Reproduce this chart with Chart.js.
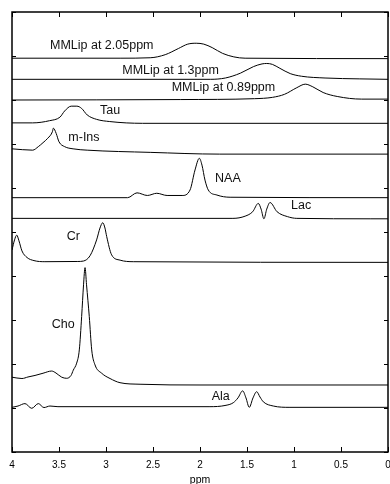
<!DOCTYPE html>
<html lang="en">
<head>
    <meta charset="UTF-8">
    <title>Metabolite basis spectra</title>
    <script src="https://cdn.jsdelivr.net/npm/chart.js"></script>
    <style>
        body { margin: 0; background: #fff; }
        .wrap { width: 390px; height: 484px; position: relative; }
    </style>
</head>
<body>
    <div class="wrap"><canvas id="spectra"></canvas></div>

    <script>
        // basis spectra, [ppm, amplitude] pairs, each trace on its own offset
        const mmLip205 = [[4.0, 8.95], [2.85, 8.95], [2.53, 8.96], [2.37, 9.03], [2.23, 9.17], [2.13, 9.27], [2.04, 9.29], [1.96, 9.27], [1.87, 9.19], [1.76, 9.06], [1.64, 8.98], [1.52, 8.95], [0, 8.94]];
        const mmLip13 = [[4.0, 8.47], [1.89, 8.47], [1.73, 8.50], [1.57, 8.61], [1.43, 8.76], [1.34, 8.82], [1.29, 8.83], [1.23, 8.81], [1.15, 8.72], [1.04, 8.60], [0.92, 8.54], [0.67, 8.50], [0.30, 8.48], [0, 8.47]];
        const mmLip089 = [[4.0, 8.0], [2.21, 8.01], [1.42, 8.03], [1.23, 8.06], [1.10, 8.13], [0.97, 8.28], [0.88, 8.36], [0.80, 8.30], [0.69, 8.17], [0.54, 8.08], [0.28, 8.02], [0, 8.02]];
        const tau = [[4.0, 7.48], [3.78, 7.48], [3.60, 7.53], [3.49, 7.61], [3.44, 7.75], [3.37, 7.86], [3.31, 7.86], [3.26, 7.81], [3.20, 7.66], [3.10, 7.56], [2.96, 7.51], [2.61, 7.47], [0, 7.47]];
        const mIns = [[4.0, 6.89], [3.78, 6.86], [3.72, 6.94], [3.67, 7.03], [3.62, 7.13], [3.57, 7.28], [3.56, 7.36], [3.53, 7.24], [3.50, 7.05], [3.44, 6.94], [3.35, 6.89], [3.20, 6.86], [2.53, 6.81], [1.79, 6.77], [0, 6.77]];
        const naa = [[4.0, 5.78], [2.77, 5.78], [2.67, 5.89], [2.56, 5.83], [2.46, 5.88], [2.35, 5.83], [2.19, 5.83], [2.106, 5.955], [2.053, 6.41], [2.007, 6.675], [1.979, 6.52], [1.947, 6.18], [1.912, 5.955], [1.82, 5.84], [1.68, 5.79], [0, 5.78]];
        const lac = [[4.0, 5.31], [1.65, 5.31], [1.52, 5.36], [1.44, 5.46], [1.38, 5.65], [1.35, 5.52], [1.32, 5.30], [1.29, 5.52], [1.255, 5.67], [1.18, 5.46], [1.07, 5.35], [0.97, 5.31], [0.19, 5.30], [0, 5.30]];
        const cr = [[4.0, 4.59], [3.973, 4.82], [3.95, 4.93], [3.926, 4.80], [3.894, 4.57], [3.84, 4.42], [3.766, 4.35], [3.65, 4.325], [3.30, 4.33], [3.24, 4.34], [3.17, 4.46], [3.10, 4.82], [3.064, 5.09], [3.035, 5.21], [3.011, 5.09], [2.993, 4.90], [2.94, 4.48], [2.85, 4.36], [2.71, 4.325], [0, 4.31]];
        const cho = [[4.0, 1.70], [3.894, 1.67], [3.83, 1.705], [3.755, 1.74], [3.67, 1.79], [3.578, 1.84], [3.532, 1.795], [3.471, 1.70], [3.418, 1.675], [3.372, 1.74], [3.348, 1.86], [3.312, 2.02], [3.284, 2.32], [3.259, 3.08], [3.239, 3.80], [3.223, 4.19], [3.207, 3.80], [3.178, 3.08], [3.152, 2.32], [3.117, 1.98], [3.046, 1.79], [2.957, 1.67], [2.851, 1.575], [2.638, 1.54], [2.0, 1.523], [0, 1.523]];
        const ala = [[4.0, 1.015], [3.936, 1.045], [3.862, 1.10], [3.79, 0.993], [3.72, 1.10], [3.66, 1.01], [3.596, 1.045], [3.511, 1.03], [1.894, 1.03], [1.734, 1.057], [1.646, 1.12], [1.596, 1.23], [1.546, 1.39], [1.511, 1.23], [1.476, 1.015], [1.436, 1.23], [1.397, 1.37], [1.362, 1.25], [1.326, 1.14], [1.22, 1.045], [1.043, 1.015], [0, 1.015]];

        const traces = [mmLip205, mmLip13, mmLip089, tau, mIns, naa, lac, cr, cho, ala];

        // name of each trace and where its label sits, [text, ppm, amplitude]
        const peakLabels = [
            ['MMLip at 2.05ppm', 3.596, 9.24],
            ['MMLip at 1.3ppm', 2.827, 8.68],
            ['MMLip at 0.89ppm', 2.301, 8.28],
            ['Tau', 3.064, 7.77],
            ['m-Ins', 3.401, 7.148],
            ['NAA', 1.840, 6.205],
            ['Lac', 1.032, 5.59],
            ['Cr', 3.418, 4.886],
            ['Cho', 3.578, 2.886],
            ['Ala', 1.876, 1.25]
        ];

        const FONT = '"Liberation Sans", Arial, sans-serif';
        Chart.defaults.font.family = FONT;
        Chart.defaults.color = '#000';

        // box with inward ticks on all four sides, plus the trace names
        const boxAxes = {
            id: 'boxAxes',
            afterDatasetsDraw(chart) {
                const { ctx, chartArea: a, scales: { x, y } } = chart;
                ctx.save();
                ctx.strokeStyle = '#000';
                ctx.lineWidth = 1;
                ctx.beginPath();
                x.ticks.forEach(t => {
                    const px = Math.round(x.getPixelForValue(t.value)) + 0.5;
                    ctx.moveTo(px, a.bottom); ctx.lineTo(px, a.bottom - 5);
                    ctx.moveTo(px, a.top); ctx.lineTo(px, a.top + 5);
                });
                y.ticks.forEach(t => {
                    const py = Math.round(y.getPixelForValue(t.value)) + 0.5;
                    ctx.moveTo(a.left, py); ctx.lineTo(a.left + 4, py);
                    ctx.moveTo(a.right, py); ctx.lineTo(a.right - 4, py);
                });
                ctx.stroke();
                ctx.lineWidth = 1.5;
                ctx.strokeRect(a.left, a.top, a.right - a.left, a.bottom - a.top);

                ctx.fillStyle = '#111';
                ctx.font = '12.5px ' + FONT;
                ctx.textAlign = 'left';
                ctx.textBaseline = 'middle';
                peakLabels.forEach(([txt, ppm, amp]) => {
                    ctx.fillText(txt, x.getPixelForValue(ppm), y.getPixelForValue(amp));
                });
                ctx.restore();
            }
        };

        new Chart(document.getElementById('spectra'), {
            type: 'line',
            data: {
                datasets: traces.map(tr => ({
                    data: tr.map(([ppm, amp]) => ({ x: ppm, y: amp })),
                    borderColor: '#000',
                    borderWidth: 1,
                    pointRadius: 0,
                    fill: false,
                    cubicInterpolationMode: 'monotone'
                }))
            },
            options: {
                responsive: true,
                maintainAspectRatio: false,
                animation: false,
                layout: { padding: { left: 12, right: 2, top: 12, bottom: 0 } },
                plugins: { legend: { display: false }, tooltip: { enabled: false } },
                scales: {
                    x: {
                        type: 'linear',
                        reverse: true,
                        min: 0,
                        max: 4,
                        ticks: {
                            stepSize: 0.5,
                            font: { size: 10 },
                            padding: 7,
                            maxRotation: 0,
                            callback: v => String(v)
                        },
                        grid: { display: false, drawTicks: false },
                        border: { display: false },
                        title: { display: true, text: 'ppm', font: { size: 10.5 }, padding: { top: 0, bottom: -2 } },
                        afterFit: s => {
                            s.height = 32;
                            s.paddingLeft = 0;
                            s.paddingRight = 0;
                        }
                    },
                    y: {
                        min: 0,
                        max: 10,
                        ticks: { stepSize: 1, display: false },
                        grid: { display: false, drawTicks: false },
                        border: { display: false },
                        afterFit: s => { s.width = 0; }
                    }
                }
            },
            plugins: [boxAxes]
        });
    </script>
</body>
</html>
